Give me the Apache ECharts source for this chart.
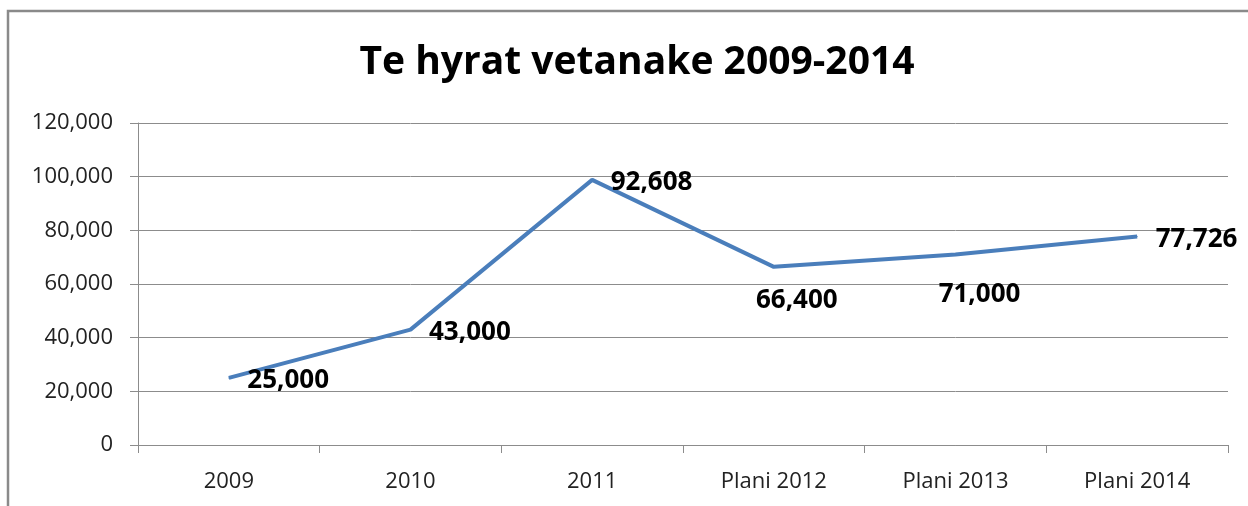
<!DOCTYPE html>
<html>
<head>
<meta charset="utf-8">
<script src="https://cdn.jsdelivr.net/npm/echarts@6/dist/echarts.min.js"></script>
<style>
  html, body { margin: 0; padding: 0; background: #fff; }
  #chart { width: 1248px; height: 506px; }
</style>
</head>
<body>
<div id="chart"></div>
<script>
const categories = ['2009', '2010', '2011', 'Plani 2012', 'Plani 2013', 'Plani 2014']
// plotted positions (2011 point sits near 98,800)
const values = [25000, 43000, 98800, 66400, 71000, 77726]
// the label texts printed beside each point
const labelTexts = ['25,000', '43,000', '92,608', '66,400', '71,000', '77,726']
const labelPlaces = ['right', 'right', 'right', 'bottom', 'bottom', 'right']
const labelGaps = [18, 18, 18, 20, 27, 18]
const labelShifts = [[0, 3], [0, 3], [0, 3], [23, 0], [24, 0], [0, 3]]

const chart = echarts.init(document.getElementById('chart'))
const font = '"Open Sans", sans-serif'

const option = {
  animation: false,
  title: {
    text: 'Te hyrat vetanake 2009-2014',
    left: 632,
    top: 38,
    textAlign: 'center',
    textStyle: {
      fontFamily: font,
      fontSize: 39,
      fontWeight: 'bold',
      color: '#000'
    }
  },
  graphic: [
    {
      type: 'rect',
      shape: { x: 8, y: 11, width: 1400, height: 700 },
      style: { fill: 'none', stroke: '#8a8a8a', lineWidth: 2.5 },
      silent: true
    }
  ],
  grid: {
    left: 138,
    right: 20,
    top: 123,
    bottom: 61
  },
  xAxis: {
    type: 'category',
    data: categories,
    boundaryGap: true,
    axisLine: { lineStyle: { color: '#8c8c8c', width: 1 } },
    axisTick: { show: true, length: 8, lineStyle: { color: '#8c8c8c' } },
    axisLabel: {
      fontFamily: font,
      fontSize: 22,
      color: '#222',
      margin: 26
    }
  },
  yAxis: {
    type: 'value',
    min: 0,
    max: 120000,
    interval: 20000,
    axisLine: { show: true, lineStyle: { color: '#8c8c8c', width: 1 } },
    axisTick: { show: true, length: 8, lineStyle: { color: '#8c8c8c' } },
    splitLine: { lineStyle: { color: '#8c8c8c', width: 1 } },
    axisLabel: {
      fontFamily: font,
      fontSize: 22,
      color: '#222',
      margin: 25,
      formatter: v => v.toLocaleString('en-US')
    }
  },
  series: [
    {
      type: 'line',
      data: values.map((v, i) => ({
        value: v,
        label: {
          position: labelPlaces[i],
          distance: labelGaps[i],
          offset: labelShifts[i],
          formatter: labelTexts[i]
        }
      })),
      symbol: 'circle',
      symbolSize: 1,
      showSymbol: true,
      itemStyle: { color: '#4a7ebb' },
      lineStyle: { color: '#4a7ebb', width: 4 },
      label: {
        show: true,
        fontFamily: font,
        fontSize: 26,
        fontWeight: 'bold',
        color: '#000'
      }
    }
  ]
}
chart.setOption(option)
</script>
</body>
</html>
